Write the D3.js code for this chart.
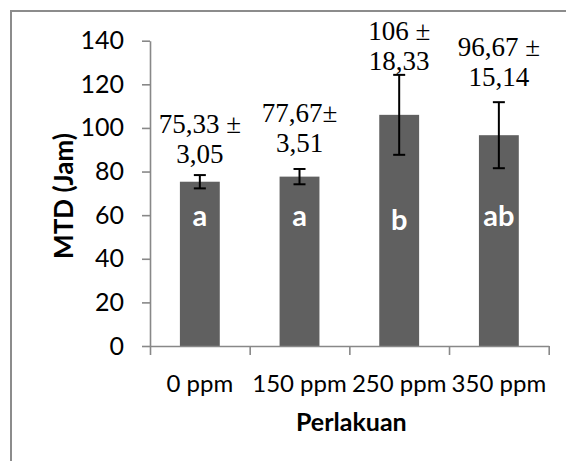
<!DOCTYPE html>
<html><head><meta charset="utf-8">
<script src="https://cdn.jsdelivr.net/npm/d3@7"></script>
<style>html,body{margin:0;padding:0;background:#fff;}</style>
</head><body>
<svg id="c" width="566" height="461"></svg>
<script>
const categories = ["0 ppm", "150 ppm", "250 ppm", "350 ppm"];
const means = [75.33, 77.67, 106, 96.67];
const errors = [3.05, 3.51, 18.33, 15.14];
const letters = ["a", "a", "b", "ab"];
const annotLine1 = ["75,33 ±", "77,67±", "106 ±", "96,67 ±"];
const annotLine2 = ["3,05", "3,51", "18,33", "15,14"];
const yTicks = [0, 20, 40, 60, 80, 100, 120, 140];
const yTitle = "MTD (Jam)";
const xTitle = "Perlakuan";

// layout
const annotGap = [12, 17, 5, 16];
const L = 150, R = 548.7, T = 40.7, B = 346;
const axisColor = "#888";

const svg = d3.select("#c");
svg.append("rect").attr("x", 11).attr("y", 11).attr("width", 600).attr("height", 500)
  .attr("fill", "none").attr("stroke", "#8c8c8c").attr("stroke-width", 2);

const x = d3.scaleBand().domain(categories).range([L, R]).paddingInner(0.6).paddingOuter(0.3);
const y = d3.scaleLinear().domain([0, 140]).range([B, T]);
const xb = d3.scaleLinear().domain([0, categories.length]).range([L, R]);

// bars
svg.append("g").selectAll("rect").data(categories).join("rect")
  .attr("x", d => x(d)).attr("width", x.bandwidth())
  .attr("y", (d, i) => y(means[i])).attr("height", (d, i) => B - y(means[i]))
  .attr("fill", "#606060");

// y axis
const gy = svg.append("g").attr("transform", `translate(${L},0)`)
  .call(d3.axisLeft(y).tickValues(yTicks).tickSize(8).tickPadding(18).tickSizeOuter(0));
gy.select(".domain").attr("stroke", axisColor).attr("stroke-width", 1.6);
gy.selectAll(".tick line").attr("stroke", axisColor).attr("stroke-width", 1.6);
gy.selectAll(".tick text").attr("font-family", "Lato").attr("font-size", 25).attr("fill", "#000");

// x axis boundary ticks
const gx = svg.append("g").attr("transform", `translate(0,${B})`)
  .call(d3.axisBottom(xb).tickValues(d3.range(categories.length + 1)).tickFormat("").tickSize(9).tickSizeOuter(0));
gx.select(".domain").attr("stroke", axisColor).attr("stroke-width", 1.6);
gx.selectAll(".tick line").attr("stroke", axisColor).attr("stroke-width", 1.6);

// x labels
svg.append("g").selectAll("text").data(categories).join("text")
  .attr("x", d => x(d) + x.bandwidth() / 2).attr("y", 392)
  .attr("text-anchor", "middle").attr("font-family", "Lato").attr("font-size", 24)
  .text(d => d);

// error bars
const eb = svg.append("g").attr("stroke", "#000").attr("stroke-width", 2);
categories.forEach((c, i) => {
  const cx = x(c) + x.bandwidth() / 2;
  const y1 = y(means[i] + errors[i]), y0 = y(means[i] - errors[i]);
  eb.append("line").attr("x1", cx).attr("x2", cx).attr("y1", y1).attr("y2", y0);
  eb.append("line").attr("x1", cx - 6).attr("x2", cx + 6).attr("y1", y1).attr("y2", y1);
  eb.append("line").attr("x1", cx - 6).attr("x2", cx + 6).attr("y1", y0).attr("y2", y0);
});

// annotations
categories.forEach((c, i) => {
  const cx = x(c) + x.bandwidth() / 2;
  const base2 = y(means[i] + errors[i]) - annotGap[i];
  const t = svg.append("text").attr("text-anchor", "middle")
    .attr("font-family", "Liberation Serif").attr("font-size", 27).attr("fill", "#000");
  t.append("tspan").attr("x", cx).attr("y", base2 - 30).text(annotLine1[i]);
  t.append("tspan").attr("x", cx).attr("y", base2).text(annotLine2[i]);
});

// letters
svg.append("g").selectAll("text").data(categories).join("text")
  .attr("x", d => x(d) + x.bandwidth() / 2).attr("y", (d, i) => letters[i] === "b" ? 230 : 226)
  .attr("text-anchor", "middle").attr("font-family", "Lato").attr("font-weight", "bold")
  .attr("font-size", 29).attr("fill", "#fff").text((d, i) => letters[i]);

// titles
svg.append("text").attr("transform", "translate(73,196) rotate(-90)")
  .attr("text-anchor", "middle").attr("font-family", "Lato").attr("font-weight", "bold")
  .attr("font-size", 26).text(yTitle);
svg.append("text").attr("x", (L + R) / 2 + 2).attr("y", 431)
  .attr("text-anchor", "middle").attr("font-family", "Lato").attr("font-weight", "bold")
  .attr("font-size", 25).text(xTitle);
</script>
</body></html>
